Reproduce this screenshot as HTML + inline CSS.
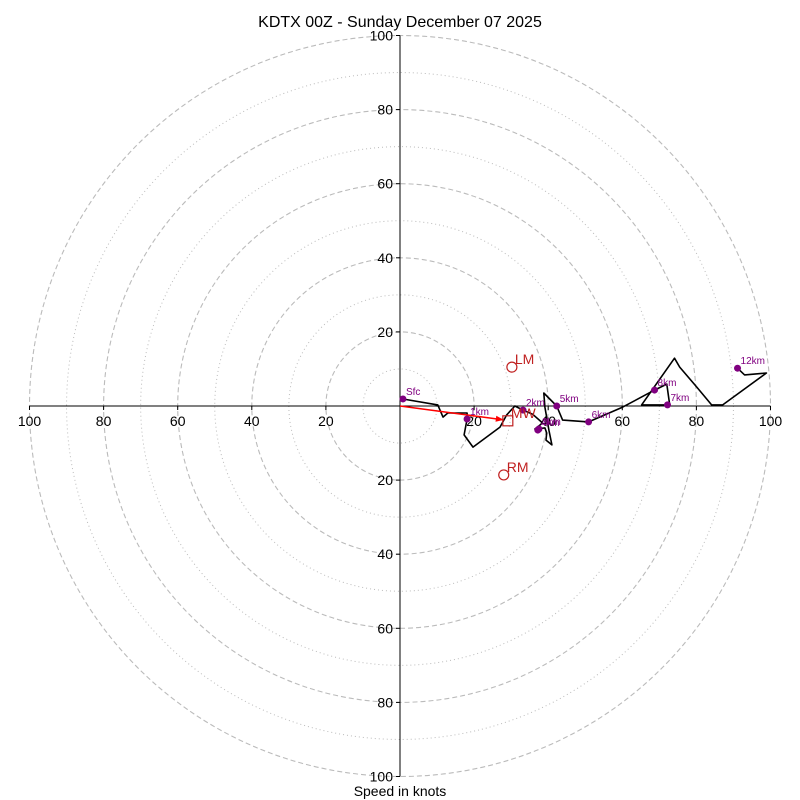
<!DOCTYPE html>
<html><head><meta charset="utf-8"><style>
html,body{margin:0;padding:0;background:#fff;}
svg{display:block;font-family:"Liberation Sans","DejaVu Sans",sans-serif;}
</style></head><body>
<svg id="chart" width="800" height="800" viewBox="0 0 800 800">
<text x="400" y="27" text-anchor="middle" font-size="16" fill="#000">KDTX 00Z - Sunday December 07 2025</text>
<text x="400" y="796" text-anchor="middle" font-size="14" fill="#000">Speed in knots</text>
<g id="rings"></g><g id="axes"></g><g id="trace"></g><g id="marks"></g>
</svg>
<script>
const ringValues=[10,20,30,40,50,60,70,80,90,100];
const tickValues=[20,40,60,80,100];
const traceU=[0.8,10.2,11.6,12.9,18.1,18.1,17.3,19.7,27.0,28.8,31.0,33.2,35.8,38.5,36.4,39.1,39.6,39.4,41.0,40.2,39.1,38.8,42.3,43.9,50.9,60.1,68.7,72.0,72.8,65.2,74.1,75.5,80.1,84.1,87.1,98.9,93.0,91.1];
const traceV=[1.9,0.3,-3.0,-1.9,-1.9,-3.5,-7.8,-11.1,-5.7,-2.4,0,-1.1,-2.2,-4.6,-6.2,-5.9,-7.3,-9.2,-10.5,-6.5,-0.3,3.5,0,-3.8,-4.3,-0.3,4.3,5.9,0.3,0.3,12.9,10.5,5.1,0.3,0.3,8.9,8.4,10.2];
const markerLabels=["Sfc","1km","2km","3km","4km","5km","6km","7km","8km","12km"];
const markerU=[0.8,18.1,33.2,37.5,37.2,42.3,50.9,72.2,68.7,91.1];
const markerV=[1.9,-3.5,-1.1,-6.2,-6.5,0,-4.3,0.3,4.3,10.2];
const motionLabels=["LM","RM","MW"];
const motionU=[30.2,28.0,29.1];
const motionV=[10.5,-18.6,-4.0];

const CX=400,CY=406,S=3.705;
const sx=u=>CX+u*S, sy=v=>CY-v*S;
const NS="http://www.w3.org/2000/svg";
function mk(tag,attrs,parent){const e=document.createElementNS(NS,tag);for(const k in attrs)e.setAttribute(k,attrs[k]);parent.appendChild(e);return e;}
const rings=document.getElementById('rings'),axes=document.getElementById('axes'),trace=document.getElementById('trace'),marks=document.getElementById('marks');

ringValues.forEach(r=>{
  const major=r%20===0;
  const c=mk('circle',{cx:CX,cy:CY,r:r*S,fill:'none',stroke:'#bbb','stroke-width':major?1.1:1,'stroke-dasharray':major?'5,3':'1,3'},rings);
  
  
});
let l=mk('line',{x1:sx(-100),y1:CY,x2:sx(100),y2:CY,stroke:'#000','stroke-width':1},axes);


l=mk('line',{x1:CX,y1:sy(100),x2:CX,y2:sy(-100),stroke:'#000','stroke-width':1},axes);


tickValues.forEach(t=>{
  [1,-1].forEach(sg=>{
    let tx=mk('text',{x:sx(sg*t),y:CY+20,'text-anchor':'middle','font-size':14,fill:'#000'},axes);
    tx.textContent=t;
    
    
    mk('line',{x1:sx(sg*t),y1:CY,x2:sx(sg*t),y2:CY+4,stroke:'#000'},axes);
    let ty=mk('text',{x:CX-7,y:sy(sg*t)+5,'text-anchor':'end','font-size':14,fill:'#000'},axes);
    ty.textContent=t;
    
    
    mk('line',{x1:CX-4,y1:sy(sg*t),x2:CX,y2:sy(sg*t),stroke:'#000'},axes);
  });
});
const pts=traceU.map((u,i)=>sx(u).toFixed(1)+','+sy(traceV[i]).toFixed(1)).join(' ');
const pl=mk('polyline',{points:pts,fill:'none',stroke:'#000','stroke-width':1.6,'stroke-linejoin':'round'},trace);


// storm motion arrow
const mx=sx(motionU[2]),my=sy(motionV[2]);
const ar=mk('line',{x1:CX,y1:CY,x2:mx-4,y2:my-1,stroke:'#f00','stroke-width':1.5},marks);


const ang=Math.atan2(my-1-CY,mx-4-CX);
const hx=mx-4,hy=my-1;
mk('polygon',{points:`${hx},${hy} ${hx-8*Math.cos(ang)+3*Math.sin(ang)},${hy-8*Math.sin(ang)-3*Math.cos(ang)} ${hx-8*Math.cos(ang)-3*Math.sin(ang)},${hy-8*Math.sin(ang)+3*Math.cos(ang)}`,fill:'#f00'},marks);
markerLabels.forEach((lab,i)=>{
  const x=sx(markerU[i]),y=sy(markerV[i]);
  const c=mk('circle',{cx:x,cy:y,r:3.5,fill:'#800080'},marks);
  
  
  const t=mk('text',{x:x+3,y:y-4,'font-size':10,fill:'#800080'},marks);
  t.textContent=lab;
  
  
});
motionLabels.forEach((lab,i)=>{
  const x=sx(motionU[i]),y=sy(motionV[i]);
  let m;
  if(lab==='MW') m=mk('rect',{x:x-5,y:y-5,width:10,height:10,fill:'none',stroke:'#c02020','stroke-width':1.2},marks);
  else m=mk('circle',{cx:x,cy:y,r:5,fill:'none',stroke:'#c02020','stroke-width':1.2},marks);
  
  
  const t=mk('text',{x:x+3,y:y-3,'font-size':14,fill:'#c02020'},marks);
  t.textContent=lab;
  
  
});
</script>
</body></html>
